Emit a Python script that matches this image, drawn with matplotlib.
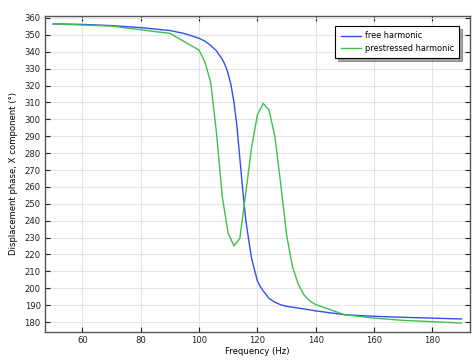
import numpy as np
import matplotlib
matplotlib.use("Agg")
import matplotlib.pyplot as plt

freqFree = [50, 60, 70, 80, 90, 95, 100, 102, 104, 106, 108, 109, 110, 111, 112,
            113, 114, 115, 116, 117, 118, 119, 120, 121, 122, 124, 126, 128, 130,
            135, 140, 150, 160, 170, 180, 190]
phaseFree = [356.5, 356.2, 355.5, 354.3, 352.6, 350.8, 348.0, 346.3, 343.8, 340.5,
             335.5, 332.0, 327.0, 320.0, 310.0, 296.0, 277.0, 258.0, 241.0, 229.0,
             218.0, 211.0, 204.5, 201.0, 198.5, 194.0, 191.8, 190.2, 189.3,
             188.0, 186.6, 184.3, 183.4, 182.8, 182.3, 181.8]

freqPre = [50, 70, 90, 100, 102, 104, 106, 108, 110, 112, 114, 116, 118, 120, 122,
           124, 126, 128, 130, 132, 134, 136, 138, 140, 150, 160, 170, 180, 190]
phasePre = [356.5, 355.2, 350.9, 341.0, 334.0, 322.0, 292.0, 254.0, 232.5, 225.0,
            229.5, 256.0, 283.0, 302.5, 309.5, 305.5, 290.0, 262.0, 232.0, 213.0,
            202.5, 196.0, 192.5, 190.3, 184.3, 182.3, 181.0, 180.2, 179.4]

plt.rcParams['font.family'] = 'DejaVu Sans'
plt.rcParams['font.size'] = 6

fig = plt.figure(figsize=(4.77, 3.63), dpi=100)
ax = fig.add_axes([0.0943, 0.0854, 0.891, 0.8706])

ax.plot(freqFree, phaseFree, color="#2f50f0", lw=1.0, label="free harmonic")
ax.plot(freqPre, phasePre, color="#3cc24a", lw=1.0, label="prestressed harmonic")

ax.set_xlim(47.2, 192.9)
ax.set_ylim(174.1, 361.2)
ax.set_xticks(np.arange(60, 181, 20))
ax.set_yticks(np.arange(180, 361, 10))

ax.grid(True, color="#e4e4e4", lw=0.8)
ax.set_axisbelow(True)
ax.tick_params(direction="in", top=True, right=True, length=3.5, width=0.8,
               colors="#222222", labelsize=6.1, pad=3)
for s in ax.spines.values():
    s.set_color("#555555")
    s.set_linewidth(1.0)

ax.set_xlabel("Frequency (Hz)", fontsize=6.1, labelpad=1)
ax.set_ylabel("Displacement phase, X component (°)", fontsize=6.1, labelpad=5)

leg = ax.legend(loc="upper right", bbox_to_anchor=(0.975, 0.968), fancybox=False,
                shadow=True, edgecolor="black", framealpha=1, fontsize=5.9,
                handlelength=2.5, handletextpad=0.45, borderpad=0.65,
                labelspacing=0.45, borderaxespad=0)
leg.get_frame().set_linewidth(0.8)

fig.savefig("out.png", dpi=100)
